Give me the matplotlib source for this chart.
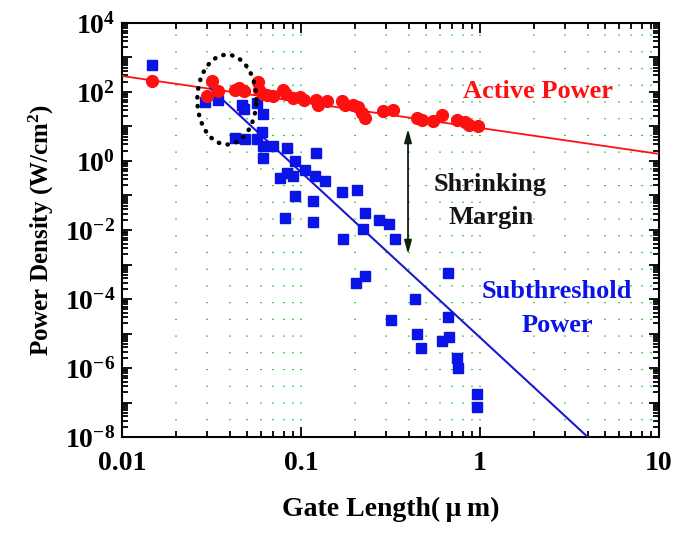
import numpy as np
import matplotlib
matplotlib.use("Agg")
import matplotlib.pyplot as plt
from matplotlib.ticker import FixedLocator, FuncFormatter, NullFormatter

#
#   Data
#

active_x = [0.0147, 0.030, 0.0317, 0.0345, 0.0428, 0.0452, 0.048, 0.0578, 0.0585,
            0.0611, 0.0643, 0.070, 0.0796, 0.0824, 0.0905, 0.0987, 0.104, 0.122,
            0.125, 0.139, 0.169, 0.176, 0.196, 0.209, 0.218, 0.228, 0.288, 0.328,
            0.443, 0.472, 0.548, 0.611, 0.741, 0.825, 0.873, 0.98]
active_y = [211, 78, 211, 108, 116, 129, 110, 200, 116,
            89, 83, 74, 116, 89, 66, 71, 60, 60,
            43, 53, 53, 43, 43, 36, 24.5, 17.6, 27.6, 30.6,
            17.6, 15.7, 14.1, 21.9, 15.1, 13.3, 11.2, 10]

sub_x = [0.0147, 0.0291, 0.0345, 0.0467, 0.048, 0.0565, 0.0616, 0.0428, 0.0487,
         0.0565, 0.0603, 0.0616, 0.070, 0.0832, 0.0616, 0.122, 0.0925, 0.105,
         0.0832, 0.0905, 0.0763, 0.12, 0.136, 0.0925, 0.116, 0.0815, 0.116,
         0.169, 0.205, 0.228, 0.274, 0.31, 0.221, 0.172, 0.335, 0.228, 0.203,
         0.665, 0.434, 0.665, 0.317, 0.443, 0.611, 0.67, 0.467, 0.741, 0.757,
         0.96, 0.96]
sub_y = [585, 50, 57, 43, 32, 48, 23, 4.6, 4.4,
         4.4, 6.8, 2.8, 2.8, 2.4, 1.23, 1.7, 0.98, 0.56,
         0.45, 0.36, 0.32, 0.36, 0.26, 0.095, 0.068, 0.0226, 0.017,
         0.126, 0.14, 0.032, 0.0195, 0.0145, 0.0104, 0.0056, 0.0056, 4.7e-4, 2.9e-4,
         5.6e-4, 1.0e-4, 3.1e-5, 2.5e-5, 1.0e-5, 6.2e-6, 7.8e-6, 3.8e-6, 1.9e-6, 9.8e-7,
         1.8e-7, 7.3e-8]

# trend lines (end points)
active_fit_x = [0.01, 10]
active_fit_y = [290, 1.6]
sub_fit_x = [0.031, 4.0]
sub_fit_y = [130, 1e-8]

# dotted ellipse around the crossing (centre and half axes in decades)
ell_center = (0.0385, 60)
ell_half = (0.165, 1.3)

# "shrinking margin" arrow
arrow_x = 0.396
arrow_y = (8.5, 2.0e-3)

x_ticks = [0.01, 0.1, 1, 10]
x_labels = ["0.01", "0.1", "1", "10"]

#
#   Style
#

plt.rcParams["font.family"] = ["Liberation Serif", "DejaVu Serif"]
plt.rcParams["font.weight"] = "bold"
plt.rcParams["mathtext.fontset"] = "custom"
plt.rcParams["mathtext.rm"] = "Liberation Serif:bold"
plt.rcParams["mathtext.bf"] = "Liberation Serif:bold"
plt.rcParams["mathtext.it"] = "Liberation Serif:bold"

GREEN = "#33cc33"
RED = "#ff1010"
BLUE = "#0a14e6"

#
#   Plot
#

fig = plt.figure(figsize=(6.78, 5.33), dpi=100)
ax = fig.add_axes([0.180, 0.180, 0.792, 0.777])

ax.set_xscale("log")
ax.set_yscale("log")
ax.set_xlim(0.01, 10)
ax.set_ylim(1e-8, 1e4)

# vertical dotted green grid
ax.grid(which="both", axis="x", color=GREEN, linestyle=(0, (0.6, 8.0)), linewidth=1.4)
ax.grid(which="both", axis="y", visible=False)

ax.plot(active_fit_x, active_fit_y, color=RED, lw=1.3, zorder=3)
ax.plot(sub_fit_x, sub_fit_y, color="#1a1acc", lw=1.5, zorder=3)

ax.plot(sub_x, sub_y, linestyle="none", marker="s", ms=6.8, color=BLUE, mec=BLUE, zorder=4)
ax.plot(active_x, active_y, linestyle="none", marker="o", ms=8.5, color=RED, mec=RED, zorder=5)

t = np.linspace(0, 2 * np.pi, 200)
ex = 10 ** (np.log10(ell_center[0]) + ell_half[0] * np.cos(t))
ey = 10 ** (np.log10(ell_center[1]) + ell_half[1] * np.sin(t))
ax.plot(ex, ey, color="black", lw=3.2, linestyle=(0, (0.1, 1.9)),
        dash_capstyle="round", zorder=6)

ax.annotate("", xy=(arrow_x, arrow_y[1]), xytext=(arrow_x, arrow_y[0]),
            arrowprops=dict(arrowstyle="<|-|>,head_length=0.8,head_width=0.22",
                            color="#102010", lw=1.3, shrinkA=0, shrinkB=0), zorder=6)

ax.text(2.1, 100, "Active Power", color=RED, fontsize=19, fontweight="bold",
        ha="center", va="center")
ax.text(1.14, 0.21, "Shrinking", color="#151515", fontsize=19, fontweight="bold",
        ha="center", va="center")
ax.text(1.16, 0.023, "Margin", color="#151515", fontsize=19, fontweight="bold",
        ha="center", va="center")
ax.text(2.69, 1.7e-4, "Subthreshold", color=BLUE, fontsize=19, fontweight="bold",
        ha="center", va="center")
ax.text(2.7, 1.7e-5, "Power", color=BLUE, fontsize=19, fontweight="bold",
        ha="center", va="center")

# ticks
ax.xaxis.set_major_locator(FixedLocator(x_ticks))
ax.xaxis.set_major_formatter(FuncFormatter(lambda v, p: x_labels[x_ticks.index(v)] if v in x_ticks else ""))
x_minor = [m * 10.0 ** e for e in range(-2, 1) for m in range(2, 10)]
ax.xaxis.set_minor_locator(FixedLocator(x_minor))
ax.xaxis.set_minor_formatter(NullFormatter())

ax.yaxis.set_major_locator(FixedLocator([10.0 ** e for e in range(-8, 5)]))
ax.yaxis.set_major_formatter(FuncFormatter(
    lambda v, p: r"$10^{%d}$" % round(np.log10(v)) if round(np.log10(v)) % 2 == 0 else ""))
y_minor = [m * 10.0 ** e for e in range(-8, 4) for m in range(2, 10)]
ax.yaxis.set_minor_locator(FixedLocator(y_minor))
ax.yaxis.set_minor_formatter(NullFormatter())

ax.tick_params(which="both", direction="in", top=True, right=True, width=1.3)
ax.tick_params(which="major", length=7, labelsize=20)
ax.tick_params(axis="y", which="major", pad=5)
ax.tick_params(axis="x", which="major", pad=10)
ax.tick_params(which="minor", length=4)
for s in ax.spines.values():
    s.set_linewidth(1.5)

ax.set_xlabel("Gate Length(\u2009μ\u2009m)", fontsize=20, fontweight="bold", labelpad=15)
ax.set_ylabel("Power Density (W/cm$^2$)", fontsize=18, fontweight="bold", labelpad=6)

fig.savefig("out.png", dpi=100)
